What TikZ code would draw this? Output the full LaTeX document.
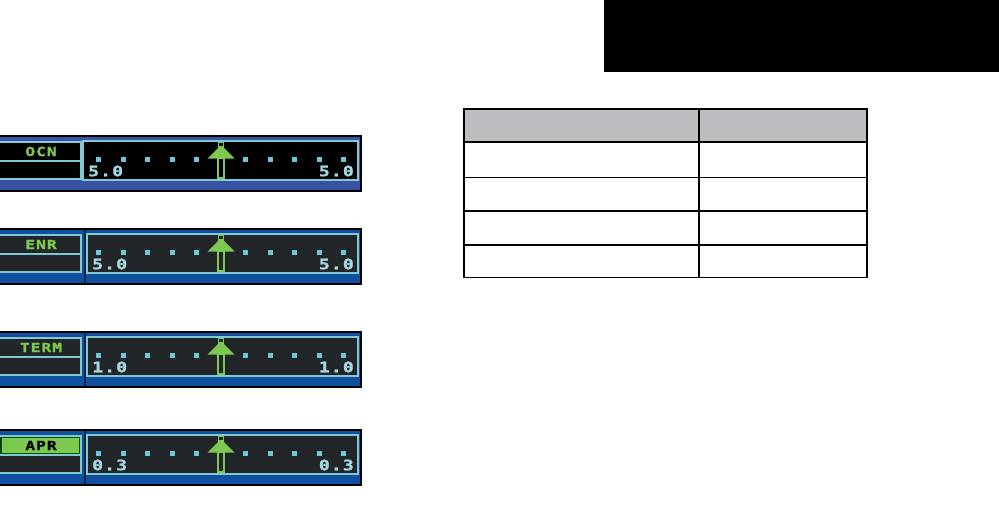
\documentclass[tikz,border=0pt]{standalone}
\usepackage{fontspec}
\usepackage{xcolor}
\usepackage{graphicx}
\usepackage{tikz}
\newfontfamily\cdimono{DejaVu Sans Mono Bold}[FakeBold=1.2, LetterSpace=6]
\newcommand\cdidigits{\cdimono\fontsize{14.5}{15}\selectfont}
\newcommand\cditag{\cdimono\fontsize{12.5}{13}\selectfont}
\newcommand\widetxt[2][1.25]{\scalebox{#1}[1]{#2}}
\definecolor{ocnblue}{RGB}{58,82,163}
\definecolor{cdiblue}{RGB}{16,80,158}
\definecolor{cdisep}{RGB}{22,36,60}
\definecolor{cdipanel}{RGB}{34,38,40}
\definecolor{cdiframe}{RGB}{128,200,210}
\definecolor{cditick}{RGB}{110,200,215}
\definecolor{cdigreen}{RGB}{124,200,80}
\definecolor{cdidigit}{RGB}{165,215,225}
\definecolor{hdrgray}{RGB}{188,189,193}

\begin{document}
\begin{tikzpicture}[x=1pt, y=-1pt,
    panel/.style={draw=cdiframe, line width=1.2pt},
    tick/.style={fill=cditick},
    digits/.style={font=\cdidigits, text=cdidigit, inner sep=0pt},
    tag/.style={font=\cditag, inner sep=0pt},
    rule/.style={line width=1.6pt},
    bg1/.style={fill=ocnblue}, bg2/.style={fill=cdiblue},
    bg3/.style={fill=cdiblue}, bg4/.style={fill=cdiblue},
    pn1/.style={fill=black}, pn2/.style={fill=cdipanel},
    pn3/.style={fill=cdipanel}, pn4/.style={fill=cdipanel},
    tc1/.style={text=cdigreen}, tc2/.style={text=cdigreen},
    tc3/.style={text=cdigreen}, tc4/.style={text=black}]
  \useasboundingbox (0,0) rectangle (999,511);

  % the four CDI bars
  \foreach \i/\top/\lbl/\val/\bx in {1/136/OCN/5.0/83, 2/229/ENR/5.0/87,
                                     3/332/TERM/1.0/87, 4/430/APR/0.3/87} {
    \draw[bg\i, draw=black, line width=2pt] (-4,\top) rectangle (361,\top+55);
    \ifnum\i>1
      \draw[cdisep, line width=1.5pt] (85,\top+1) -- (85,\top+54);
    \fi
    % mode box
    \draw[panel, pn\i] (-4,\top+6) rectangle (81,\top+43);
    \ifnum\i=4
      \draw[fill=cdigreen, draw=green!35!black, line width=0.8pt]
        (1,\top+7.5) rectangle (79.5,\top+23.5);
    \fi
    \draw[cdiframe, line width=1.2pt] (-4,\top+25) -- (81,\top+25);
    \node[tag, tc\i] (tag\i) at (41,\top+15.5) {\widetxt[1.3]{\lbl}};
    % scale
    \draw[panel, pn\i] (\bx,\top+5) rectangle (358,\top+44);
    \foreach \k in {-5,-4,-3,-2,-1,1,2,3,4,5}
      \fill[tick] (221+24.5*\k-2.5,\top+20.5) rectangle ++(5,5);
    % course pointer
    \draw[cdigreen, line width=1.3pt, pn\i] (218,\top+22) rectangle (224,\top+42);
    \fill[cdigreen] (207.5,\top+22.5) -- (221,\top+9) -- (234.5,\top+22.5) -- cycle;
    \draw[cdigreen, line width=1.2pt, pn\i] (218.5,\top+6.5) rectangle (223.5,\top+11);
    \node[digits, anchor=west] (lo\i) at (\bx+5,\top+35) {\widetxt{\val}};
    \node[digits, anchor=east] (hi\i) at (354,\top+35) {\widetxt{\val}};
  }

  % table
  \fill[hdrgray] (464,109) rectangle (867,142);
  \foreach \yy in {142,177.5,211,245}
    \draw[rule] (464,\yy) -- (867,\yy);
  \draw[rule] (699,109) -- (699,277.5);
  \draw[rule] (464,109) rectangle (867,277.5);

  % black tab
  \fill[black] (604,0) rectangle (999,72);
\end{tikzpicture}
\end{document}
